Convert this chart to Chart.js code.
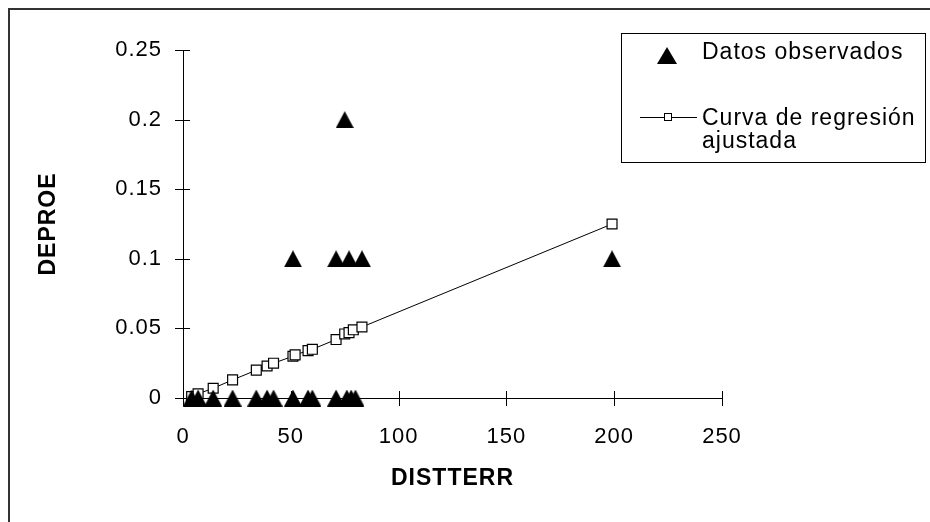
<!DOCTYPE html>
<html>
<head>
<meta charset="utf-8">
<script src="https://cdn.jsdelivr.net/npm/chart.js@4/dist/chart.umd.min.js"></script>
<style>
  body { margin: 0; background: #fff; }
  canvas { display: block; }
</style>
</head>
<body>
<canvas id="grafico" width="930" height="522"></canvas>
<script>
// datos observados (DISTTERR, DEPROE)
const obsX = [4, 7, 14, 23, 34, 39, 42, 51, 58, 60, 71, 76, 78, 80, 51, 71, 77, 83, 75, 199];
const obsY = [0, 0, 0, 0, 0, 0, 0, 0, 0, 0, 0, 0, 0, 0, 0.1, 0.1, 0.1, 0.1, 0.2, 0.1];

// curva de regresion ajustada
const fitX = [4, 7, 14, 23, 34, 39, 42, 51, 52, 58, 60, 71, 75, 77, 79, 83, 199];
const fitY = [0.001, 0.003, 0.007, 0.013, 0.020, 0.023, 0.025, 0.030, 0.031, 0.034, 0.035, 0.042, 0.046, 0.047, 0.049, 0.051, 0.125];

const xTicks = [0, 50, 100, 150, 200, 250];
const xTickLabels = ["0", "50", "100", "150", "200", "250"];
const yTicks = [0, 0.05, 0.1, 0.15, 0.2, 0.25];
const yTickLabels = ["0", "0.05", "0.1", "0.15", "0.2", "0.25"];

const fuente = "'Liberation Sans', Arial, sans-serif";

// triangulo negro centrado (como el marcador de Excel)
function triangulo(w, h) {
  const c = document.createElement("canvas");
  c.width = w; c.height = h;
  const g = c.getContext("2d");
  g.fillStyle = "#000";
  g.beginPath();
  g.moveTo(w / 2, 0);
  g.lineTo(w, h);
  g.lineTo(0, h);
  g.closePath();
  g.fill();
  return c;
}

// espaciado de letras como en el original
const espaciado = {
  id: "espaciado",
  beforeLayout(chart) { chart.ctx.letterSpacing = "1px"; },
  beforeDraw(chart) { chart.ctx.letterSpacing = "1px"; }
};

// marcas de escala que cruzan los ejes
const marcas = {
  id: "marcas",
  beforeDatasetsDraw(chart) {
    const ctx = chart.ctx;
    const x = chart.scales.x, y = chart.scales.y;
    const a = chart.chartArea;
    ctx.save();
    ctx.strokeStyle = "#000";
    ctx.lineWidth = 1;
    ctx.beginPath();
    xTicks.forEach(v => {
      const px = Math.round(x.getPixelForValue(v)) + 0.5;
      ctx.moveTo(px, a.bottom - 7);
      ctx.lineTo(px, a.bottom + 8);
    });
    yTicks.forEach(v => {
      const py = Math.round(y.getPixelForValue(v)) + 0.5;
      ctx.moveTo(a.left - 8, py);
      ctx.lineTo(a.left + 7, py);
    });
    ctx.stroke();
    ctx.restore();
  }
};

// marco exterior y leyenda
const leyenda = {
  id: "leyenda",
  afterDraw(chart) {
    const ctx = chart.ctx;
    ctx.save();
    ctx.strokeStyle = "#333";
    ctx.lineWidth = 2;
    ctx.strokeRect(9, 9, 1000, 1000);

    ctx.strokeStyle = "#000";
    ctx.lineWidth = 1;
    ctx.strokeRect(621.5, 33.5, 304, 129);

    ctx.fillStyle = "#000";
    ctx.beginPath();
    ctx.moveTo(667, 47);
    ctx.lineTo(677, 64);
    ctx.lineTo(657, 64);
    ctx.closePath();
    ctx.fill();

    ctx.beginPath();
    ctx.moveTo(640, 117.5);
    ctx.lineTo(697, 117.5);
    ctx.stroke();
    ctx.fillStyle = "#fff";
    ctx.fillRect(664, 113.5, 8, 8);
    ctx.strokeRect(664.5, 113.5, 7, 7);

    ctx.fillStyle = "#000";
    ctx.font = "23px " + fuente;
    ctx.letterSpacing = "1px";
    ctx.textAlign = "left";
    ctx.textBaseline = "middle";
    ctx.fillText("Datos observados", 702, 53);
    ctx.fillText("Curva de regresión", 702, 119);
    ctx.fillText("ajustada", 702, 142);
    ctx.restore();
  }
};

new Chart(document.getElementById("grafico"), {
  type: "scatter",
  data: {
    datasets: [{
      label: "Datos observados",
      data: obsX.map((v, i) => ({ x: v, y: obsY[i] })),
      pointStyle: triangulo(18, 17),
      pointRadius: 9,
      backgroundColor: "#000",
      borderColor: "#000",
      borderWidth: 0,
      clip: false,
      order: 0
    }, {
      label: "Curva de regresión ajustada",
      data: fitX.map((v, i) => ({ x: v, y: fitY[i] })),
      showLine: true,
      borderColor: "#000",
      borderWidth: 1,
      pointStyle: "rect",
      pointRadius: 7,
      pointBackgroundColor: "#fff",
      pointBorderColor: "#000",
      pointBorderWidth: 1.2,
      clip: false,
      order: 1
    }]
  },
  options: {
    responsive: false,
    animation: false,
    devicePixelRatio: 1,
    layout: { padding: { left: 0, top: 50, right: 208, bottom: 0 } },
    plugins: { legend: { display: false }, tooltip: { enabled: false } },
    scales: {
      x: {
        type: "linear",
        min: 0, max: 250,
        afterFit: s => { s.height = 124; },
        ticks: {
          stepSize: 50, padding: 26, color: "#000",
          font: { family: fuente, size: 22 },
          callback: (v, i) => xTickLabels[i]
        },
        grid: { display: false, drawTicks: false },
        border: { display: true, color: "#000", width: 1 },
        title: {
          display: true, text: "DISTTERR", color: "#000",
          font: { family: fuente, size: 23, weight: "bold" },
          padding: { top: 0, bottom: 30 }
        }
      },
      y: {
        min: 0, max: 0.25,
        afterFit: s => { s.width = 183; },
        ticks: {
          stepSize: 0.05, padding: 21, color: "#000",
          font: { family: fuente, size: 22 },
          callback: (v, i) => yTickLabels[i]
        },
        grid: { display: false, drawTicks: false },
        border: { display: true, color: "#000", width: 1 },
        title: {
          display: true, text: "DEPROE", color: "#000",
          font: { family: fuente, size: 23, weight: "bold" },
          padding: { top: 35, bottom: 0 }
        }
      }
    }
  },
  plugins: [espaciado, marcas, leyenda]
});
</script>
</body>
</html>
